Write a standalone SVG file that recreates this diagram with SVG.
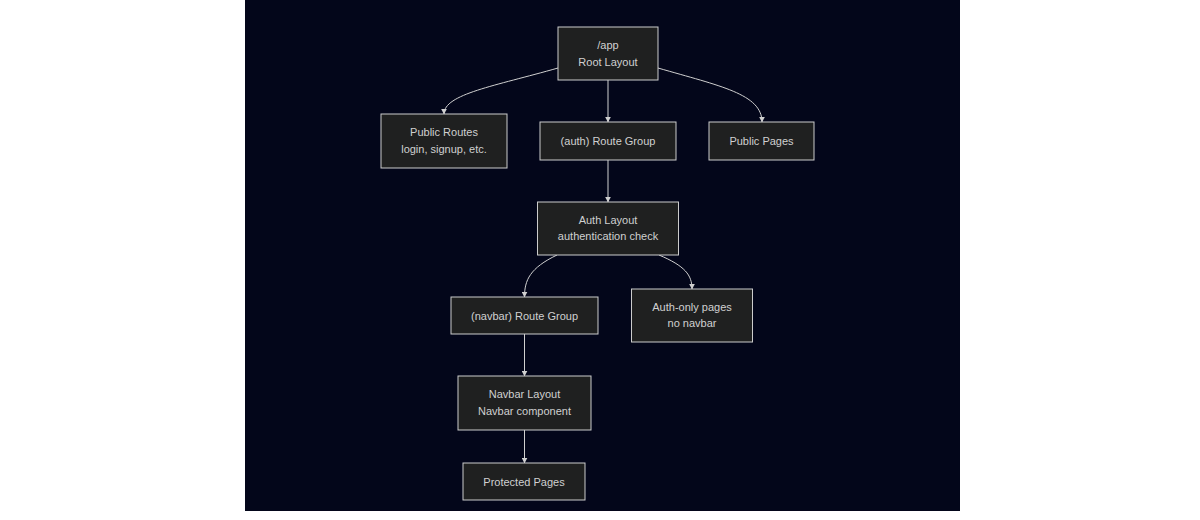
<svg xmlns="http://www.w3.org/2000/svg" width="1200" height="520" viewBox="0 0 1200 520">
<style>
.node rect{fill:#1f2020;stroke:#cccccc;stroke-width:1}
.node text{fill:#d0d0d0;font-family:"Liberation Sans",Arial,sans-serif;font-size:11px;text-anchor:middle}
.edges path{fill:none;stroke:#d0d0d0;stroke-width:1}
</style>
<defs>
<marker id="arr" viewBox="0 0 10 10" refX="9" refY="5" markerWidth="6" markerHeight="6" orient="auto-start-reverse" markerUnits="userSpaceOnUse">
<path d="M0,0 L10,5 L0,10 z" fill="#d0d0d0"/>
</marker>
</defs>
<rect x="0" y="0" width="1200" height="520" fill="#ffffff"/>
<rect x="245" y="0" width="715" height="511" fill="#03061a"/>
<g class="edges">
<path d="M558,68 C495,86 444,94 444,114" marker-end="url(#arr)"/>
<path d="M608,80 L608,122" marker-end="url(#arr)"/>
<path d="M658,68 C720,86 762,94 762,122" marker-end="url(#arr)"/>
<path d="M608,160 L608,202" marker-end="url(#arr)"/>
<path d="M557,255 C530,268 524.5,280 524.5,297" marker-end="url(#arr)"/>
<path d="M659,255 C685,266 692,275 692,289" marker-end="url(#arr)"/>
<path d="M524.5,334 L524.5,376" marker-end="url(#arr)"/>
<path d="M524.5,430 L524.5,463" marker-end="url(#arr)"/>
</g>
<g id="app" class="node"><rect x="558" y="27" width="100" height="53"/><text x="608" y="49">/app</text><text x="608" y="66">Root Layout</text></g>
<g id="public-routes" class="node"><rect x="381" y="114" width="126" height="54"/><text x="444" y="136">Public Routes</text><text x="444" y="153">login, signup, etc.</text></g>
<g id="auth-group" class="node"><rect x="540" y="122" width="136" height="38"/><text x="608" y="145">(auth) Route Group</text></g>
<g id="public-pages" class="node"><rect x="709" y="122" width="105" height="38"/><text x="761.5" y="145">Public Pages</text></g>
<g id="auth-layout" class="node"><rect x="537.5" y="202" width="141" height="53"/><text x="608" y="224">Auth Layout</text><text x="608" y="240">authentication check</text></g>
<g id="navbar-group" class="node"><rect x="451" y="297" width="147" height="37"/><text x="524.5" y="320">(navbar) Route Group</text></g>
<g id="auth-only" class="node"><rect x="631.5" y="289" width="121" height="53"/><text x="692" y="311">Auth-only pages</text><text x="692" y="327">no navbar</text></g>
<g id="navbar-layout" class="node"><rect x="458" y="376" width="133" height="54"/><text x="524.5" y="398">Navbar Layout</text><text x="524.5" y="415">Navbar component</text></g>
<g id="protected" class="node"><rect x="463" y="463" width="122" height="37"/><text x="524" y="486">Protected Pages</text></g>
</svg>
